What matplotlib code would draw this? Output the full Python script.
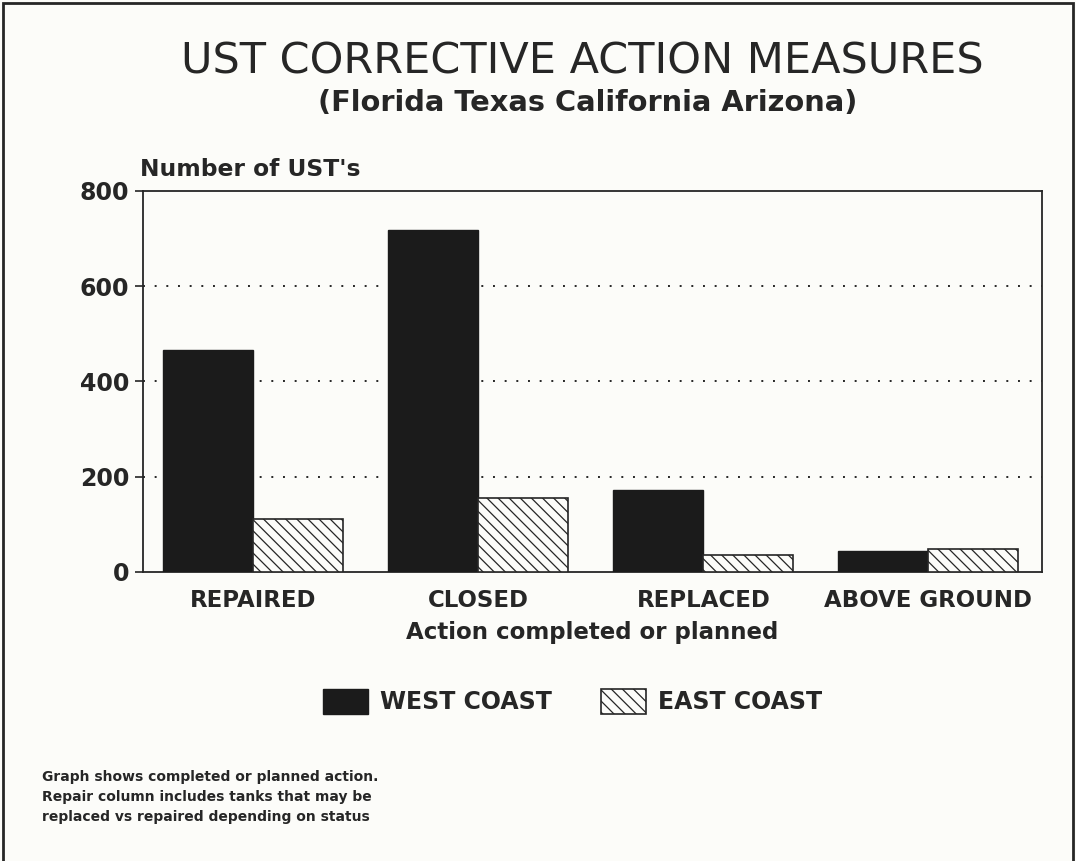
import matplotlib.pyplot as plt
import matplotlib.patches as patches
import numpy as np

plt.rcParams.update({
    'font.family': 'DejaVu Sans',
    'hatch.linewidth': 0.9,
    'hatch.color': '#222222',
})

# Data
categories = ['REPAIRED', 'CLOSED', 'REPLACED', 'ABOVE GROUND']
west_coast = [467, 719, 173, 44]
east_coast = [112, 156, 35, 49]
y_ticks = [0, 200, 400, 600, 800]

ink = '#262626'
paper = '#fcfcf9'

fig = plt.figure(figsize=(10.76, 8.61), dpi=100, facecolor=paper)
ax = fig.add_axes([0.1329, 0.3357, 0.8355, 0.4425], facecolor=paper)

x = np.arange(len(categories))
w = 0.4
ax.bar(x - w / 2, west_coast, w, color='#1b1b1b', edgecolor='#1b1b1b',
       lw=1.0, label='WEST COAST', zorder=3)
ax.bar(x + w / 2, east_coast, w, color=paper, edgecolor=ink, hatch='\\\\\\',
       lw=1.2, label='EAST COAST', zorder=3)

ax.set_xlim(-0.49, 3.505)
ax.set_ylim(0, 800)
ax.set_yticks(y_ticks)
ax.set_yticklabels([str(v) for v in y_ticks], fontsize=17, fontweight='bold',
                   color=ink)
ax.tick_params(axis='y', length=6, width=1.2, color=ink, pad=4)
ax.set_xticks(x)
ax.set_xticklabels(categories, fontsize=16.5, fontweight='bold', color=ink)
ax.tick_params(axis='x', length=0, pad=12)
for s in ax.spines.values():
    s.set_color(ink)
    s.set_linewidth(1.3)

# dotted grid at the inner ticks only
for yv in y_ticks[1:-1]:
    ax.axhline(yv, color=ink, lw=1.4, ls=(0, (1, 5)), zorder=1)

ax.set_xlabel('Action completed or planned', fontsize=16.5, fontweight='bold',
              color=ink, labelpad=7)

# Titles and labels
fig.text(0.5414, 0.928, 'UST CORRECTIVE ACTION MEASURES', ha='center',
         va='center', fontsize=31, color=ink)
fig.text(0.5465, 0.880, '(Florida Texas California Arizona)', ha='center',
         va='center', fontsize=20.8, fontweight='bold', color=ink)
fig.text(0.130, 0.8026, "Number of UST's", ha='left', va='center',
         fontsize=16.8, fontweight='bold', color=ink)

leg = fig.legend(loc='center', bbox_to_anchor=(0.532, 0.185), ncol=2,
                 frameon=False, fontsize=17, handlelength=1.9,
                 handleheight=1.23, handletextpad=0.5, columnspacing=2.1)
for t in leg.get_texts():
    t.set_color(ink)
    t.set_fontweight('bold')

fig.text(0.039, 0.0743, 'Graph shows completed or planned action.\n'
         'Repair column includes tanks that may be\n'
         'replaced vs repaired depending on status',
         ha='left', va='center', fontsize=10, fontweight='bold',
         color=ink, linespacing=1.55)

# Page frame
frame = patches.Rectangle((0.003, -0.05), 0.994, 1.047, transform=fig.transFigure,
                          fill=False, ec=ink, lw=2.0)
fig.patches.append(frame)

fig.savefig('out.png', dpi=100, facecolor=paper)
